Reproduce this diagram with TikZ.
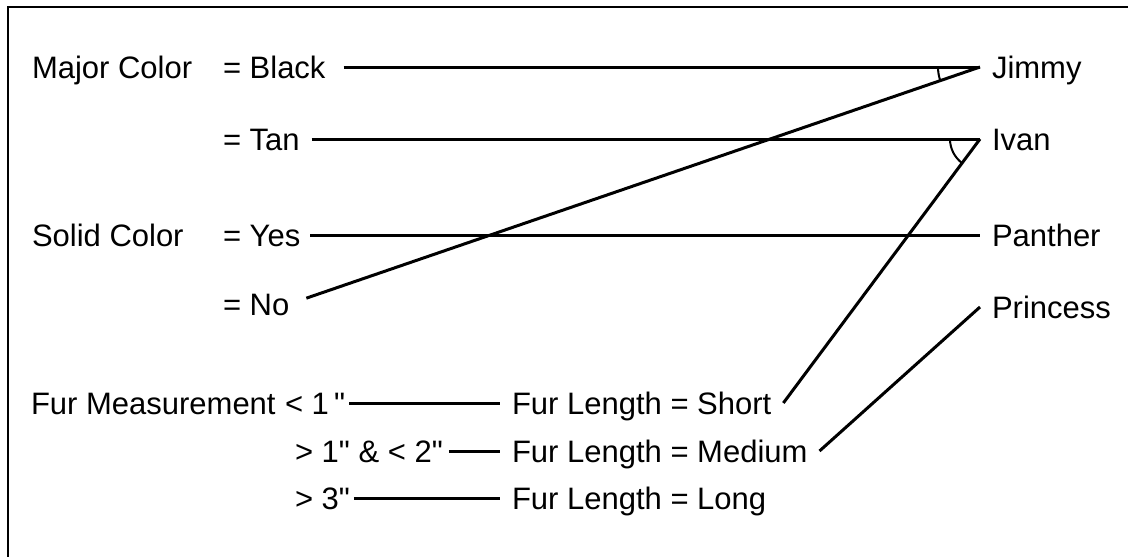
\documentclass[tikz,border=0pt]{standalone}
\usepackage{fontspec}
\setmainfont{Liberation Sans}[Ligatures=TeXOff]
\usetikzlibrary{positioning}
\tikzset{
  lbl/.style={
    inner sep=0pt,
    outer sep=0pt,
    anchor=base west,
    text height=22pt,
    text depth=0pt,
    font=\fontsize{31}{37}\selectfont
  },
  attrib/.style={lbl},
  valbox/.style={lbl},
  furlen/.style={lbl, outer xsep=12pt},
  pet/.style={lbl, outer xsep=12pt},
  link/.style={line width=3pt},
  arcmark/.style={line width=2pt},
  frameline/.style={line width=2pt}
}
\begin{document}
\begin{tikzpicture}[x=1pt, y=-1pt]
\useasboundingbox (0,0) rectangle (1128,557);
\clip (0,0) rectangle (1128,557);
\draw[frameline] (8,600) -- (8,7) -- (1160,7);

% attributes and values
\node[attrib] (majc) at (32,78) {Major Color};
\node[valbox] (black) at (223,78) {= Black};
\node[valbox] (tan) at (223,150) {= Tan};
\node[attrib] (solid) at (32,246) {Solid Color};
\node[valbox] (yes) at (223,246) {= Yes};
\node[valbox] (no) at (223,315) {= No};
\node[attrib] (furm) at (31,414) {Fur Measurement};
\node[valbox] (lt1) at (285,414) {< 1\,"};
\node[valbox] (btw) at (295,462) {> 1" \& < 2"};
\node[valbox] (gt3) at (295,509) {> 3"};
\node[furlen] (short) at (500,414) {Fur Length = Short};
\node[furlen] (medium) at (500,462) {Fur Length = Medium};
\node[furlen] (long) at (500,509) {Fur Length = Long};

% cats
\node[pet] (jimmy) at (980,78) {Jimmy};
\node[pet] (ivan) at (980,150) {Ivan};
\node[pet] (panther) at (980,246) {Panther};
\node[pet] (princess) at (980,318) {Princess};

\draw[link, shorten <=18pt] (black.east) -- (jimmy.west);
\draw[link, shorten <=12pt] (tan.east) -- (ivan.west);
\draw[link, shorten <=10pt] (yes.east) -- (panther.west);
\draw[link, shorten <=18pt] (no.east) -- (jimmy.west);
\draw[link] (short.east) -- (ivan.west);
\draw[link] (medium.east) -- (princess.west);
\draw[link, shorten <=4pt] (lt1.east) -- (short.west);
\draw[link, shorten <=6pt] (btw.east) -- (medium.west);
\draw[link, shorten <=4pt] (gt3.east) -- (long.west);

% angle marks
\draw[arcmark] (jimmy.west) ++(180:42) arc[start angle=180, end angle=161.1, radius=42];
\draw[arcmark] (ivan.west) ++(180:30) arc[start angle=180, end angle=125.9, radius=30];
\end{tikzpicture}
\end{document}
